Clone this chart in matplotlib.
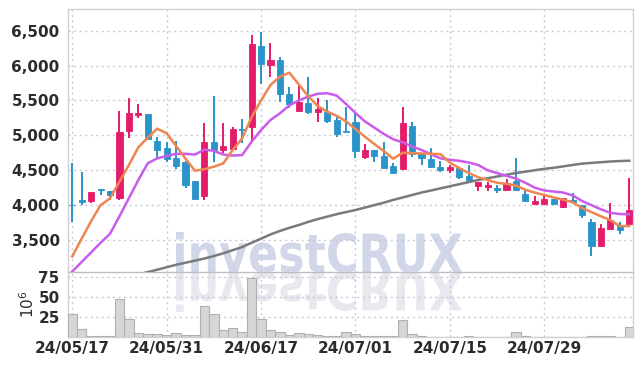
import numpy as np
import matplotlib
matplotlib.use("Agg")
import matplotlib.pyplot as plt
from matplotlib.textpath import TextPath
from matplotlib.patches import PathPatch
from matplotlib.font_manager import FontProperties
from matplotlib.transforms import Affine2D, IdentityTransform

# daily candles, 24/05/17 .. 24/08/09 (trading days)
OPEN = [4005, 4075, 4064, 4230, 4200, 4107, 5062, 5290, 5306, 4919,
        4814, 4675, 4623, 4345, 4136, 4904, 4790, 4809, 5090, 5124,
        6280, 6013, 6084, 5592, 5353, 5458, 5339, 5330, 5220, 5062,
        5191, 4694, 4785, 4704, 4561, 4518, 5134, 4742, 4661, 4546,
        4503, 4527, 4417, 4274, 4264, 4245, 4221, 4351, 4155, 4016,
        4016, 4088, 3978, 4073, 4002, 3758, 3419, 3662, 3696, 3730]
HIGH = [4599, 4479, 4185, 4232, 4205, 5353, 5535, 5454, 5310, 4981,
        4900, 4924, 4630, 4350, 5172, 5564, 5172, 5124, 5229, 6438,
        6476, 6318, 6118, 5688, 5721, 5841, 5540, 5506, 5282, 5401,
        5330, 4871, 4790, 4900, 4608, 5411, 5196, 4752, 4814, 4632,
        4575, 4530, 4575, 4330, 4336, 4293, 4370, 4670, 4217, 4136,
        4155, 4090, 4100, 4169, 4005, 3796, 3730, 4026, 3753, 4384]
LOW = [3753, 4002, 4026, 4145, 4073, 4073, 4957, 5244, 4952, 4670,
       4623, 4518, 4241, 4083, 4073, 4613, 4742, 4790, 4885, 4919,
       5731, 5831, 5482, 5387, 5339, 5301, 5196, 5181, 4981, 5029,
       4680, 4656, 4613, 4527, 4451, 4510, 4694, 4575, 4551, 4479,
       4455, 4370, 4312, 4207, 4207, 4178, 4221, 4221, 4059, 4016,
       4002, 3997, 3964, 4050, 3820, 3271, 3395, 3662, 3581, 3730]
CLOSE = [3995, 4040, 4183, 4210, 4145, 5048, 5320, 5320, 4952, 4795,
         4661, 4565, 4288, 4092, 4904, 4790, 4847, 5091, 5080, 6309,
         6022, 6084, 5592, 5444, 5482, 5339, 5377, 5205, 5014, 5050,
         4780, 4785, 4709, 4537, 4465, 5172, 4733, 4670, 4551, 4503,
         4546, 4408, 4346, 4327, 4288, 4221, 4317, 4221, 4059, 4059,
         4088, 4016, 4097, 4050, 3859, 3419, 3672, 3787, 3648, 3930]

# moving averages
MA_SHORT = [3265, 3520, 3770, 4000, 4097, 4336, 4575, 4828, 4967, 5095,
            5029, 4848, 4666, 4493, 4515, 4550, 4599, 4790, 4957, 5260,
            5500, 5721, 5840, 5898, 5730, 5560, 5420, 5340, 5280, 5200,
            5090, 4980, 4875, 4775, 4665, 4751, 4745, 4740, 4735, 4730,
            4610, 4530, 4460, 4400, 4360, 4320, 4305, 4280, 4220, 4180,
            4145, 4110, 4080, 4040, 3960, 3900, 3840, 3786, 3700, 3700]
MA_MID = [3050, 3186, 3323, 3460, 3590, 3840, 4100, 4360, 4600, 4670,
          4705, 4735, 4735, 4725, 4795, 4778, 4725, 4710, 4718, 4910,
          5076, 5220, 5315, 5430, 5500, 5555, 5595, 5603, 5570, 5450,
          5320, 5200, 5110, 5020, 4943, 4900, 4840, 4790, 4730, 4670,
          4650, 4635, 4610, 4575, 4500, 4460, 4420, 4380, 4320, 4250,
          4210, 4195, 4180, 4140, 4060, 4000, 3940, 3890, 3873, 3868]
MA_LONG = [np.nan] * 7 + [
    3010, 3040, 3075, 3110, 3145, 3175, 3205, 3235, 3270, 3310,
    3355, 3400, 3460, 3520, 3580, 3630, 3675, 3715, 3760, 3800,
    3835, 3870, 3900, 3930, 3965, 4000, 4035, 4075, 4110, 4145,
    4180, 4210, 4240, 4270, 4300, 4330, 4360, 4385, 4410, 4435,
    4460, 4480, 4500, 4520, 4535, 4555, 4575, 4595, 4605, 4615,
    4625, 4632, 4636]

# volume in millions
VOLUME = [28.4, 9.6, 1.0, 1.0, 1.2, 47.1, 22.5, 4.6, 3.3, 3.3,
          2.1, 4.6, 2.1, 2.1, 38.8, 28.4, 8.3, 10.8, 5.8, 73.3,
          22.5, 8.3, 5.8, 2.1, 4.6, 3.3, 2.1, 1.0, 1.0, 6.7,
          3.3, 0.8, 0.8, 0.8, 0.8, 20.8, 3.7, 1.0, 0.5, 0.5,
          0.5, 0.5, 1.2, 0.5, 0.5, 0.5, 0.5, 5.8, 1.0, 0.5,
          0.5, 0.5, 0.5, 0.5, 0.5, 0.8, 0.8, 1.5, 0.5, 12.1]

TICK_IDX = [0, 10, 20, 30, 40, 50]
TICK_LABELS = ["24/05/17", "24/05/31", "24/06/17", "24/07/01", "24/07/15", "24/07/29"]
PRICE_TICKS = [3500, 4000, 4500, 5000, 5500, 6000, 6500]
VOL_TICKS = [25, 50, 75]

UP = "#e31c6b"
DOWN = "#2a93c9"
FONT = ["Liberation Sans Narrow", "DejaVu Sans"]
GRID = dict(color="#c9c9d9", linestyle=(0, (1.5, 2.5)), linewidth=1.0)


def style_axis(ax):
    ax.set_facecolor("none")
    for side in ["left", "top", "right", "bottom"]:
        ax.spines[side].set_color("#cfcfd6")
        ax.spines[side].set_linewidth(1.0)
    ax.tick_params(length=0, colors="#2b2b2b", labelsize=11, pad=6)
    for lab in ax.get_xticklabels() + ax.get_yticklabels():
        lab.set_family(FONT)
        lab.set_weight("bold")
    ax.grid(True, **GRID)
    ax.set_axisbelow(True)


def add_watermark(fig):
    prop = FontProperties(family="DejaVu Sans", weight="bold")
    tp = TextPath((0, 0), "investCRUX", size=100, prop=prop)
    ext = tp.get_extents()
    # target box in pixels (origin bottom-left): x 176..462, baseline at 272 from top
    x0, x1 = 176, 462
    sx = (x1 - x0) / ext.width
    sy = 40 / tp.vertices[:, 1].max()
    base = 366 - 272
    top = Affine2D().translate(-ext.x0, 0).scale(sx, sy).translate(x0, base)
    bot = Affine2D().translate(-ext.x0, 0).scale(sx, -sy).translate(x0, base)
    p1 = PathPatch(top.transform_path(tp), transform=IdentityTransform(),
                   facecolor="#c9d0e6", edgecolor="none", alpha=0.85, zorder=-1)
    p2 = PathPatch(bot.transform_path(tp), transform=IdentityTransform(),
                   facecolor="#e6e6ee", edgecolor="none", alpha=0.9, zorder=-1)
    fig.add_artist(p1)
    fig.add_artist(p2)


def main():
    fig = plt.figure(figsize=(6.42, 3.66), dpi=100)
    ax = fig.add_axes([68 / 642, 94 / 366, 565 / 642, 263 / 366])
    axv = fig.add_axes([68 / 642, 29 / 366, 565 / 642, 65 / 366], sharex=ax)

    add_watermark(fig)

    x = np.arange(len(OPEN))
    o = np.array(OPEN)
    c = np.array(CLOSE)
    colors = [UP if cc >= oo else DOWN for oo, cc in zip(o, c)]

    ax.vlines(x, LOW, HIGH, colors=colors, linewidth=1.4, zorder=3)
    body_h = np.maximum(np.abs(c - o), 8)
    ax.bar(x, body_h, bottom=np.minimum(o, c), width=0.65, color=colors,
           edgecolor=colors, linewidth=0.6, zorder=4)

    ax.plot(x, MA_LONG, color="#7a7a7a", linewidth=1.8, zorder=5)
    ax.plot(x, MA_MID, color="#c95ceb", linewidth=1.8, zorder=5)
    ax.plot(x, MA_SHORT, color="#ef8650", linewidth=1.8, zorder=5)

    ax.set_ylim(3042, 6810)
    ax.set_xlim(-0.45, len(OPEN) - 0.6)
    ax.set_yticks(PRICE_TICKS)
    ax.set_yticklabels([f"{v:,}" for v in PRICE_TICKS])
    ax.set_xticks(TICK_IDX)
    ax.tick_params(axis="x", labelbottom=False)
    style_axis(ax)
    ax.spines["bottom"].set_color("#bdbdc4")

    axv.bar(x, VOLUME, width=1.0, color="#d6d6d6", edgecolor="#b0b0b0",
            linewidth=0.8, zorder=3)
    axv.set_ylim(0, 81)
    axv.set_yticks(VOL_TICKS)
    axv.set_yticklabels([str(v) for v in VOL_TICKS])
    axv.set_xticks(TICK_IDX)
    axv.set_xticklabels(TICK_LABELS)
    style_axis(axv)
    axv.tick_params(axis="x", pad=3)
    axv.spines["top"].set_visible(False)
    axv.set_ylabel(r"$\mathregular{10^6}$", family=FONT, fontsize=11,
                   color="#2b2b2b", labelpad=1)

    fig.savefig("out.png", dpi=100)
    plt.close(fig)


if __name__ == "__main__":
    main()
